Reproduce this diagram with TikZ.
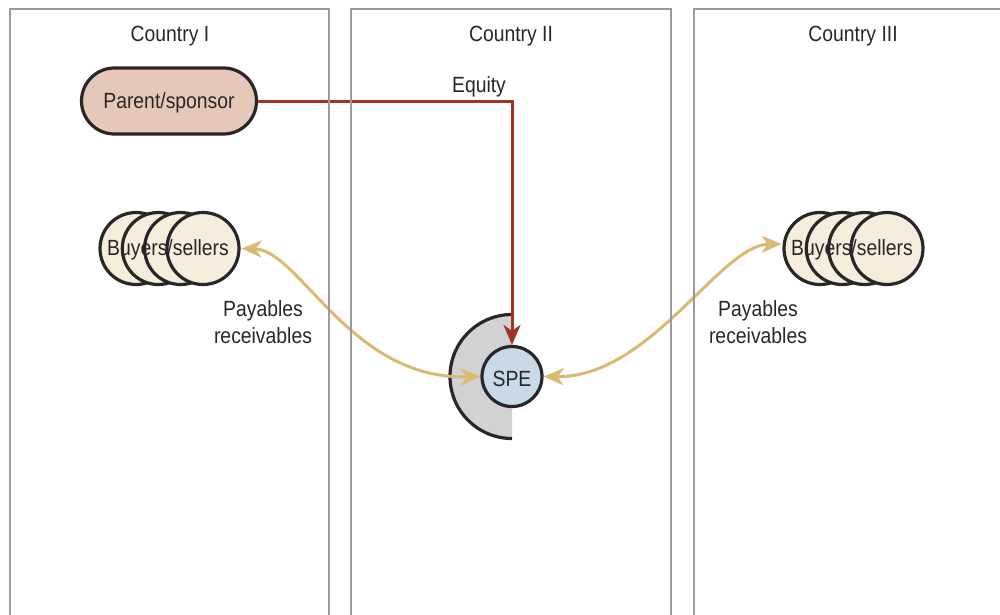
\documentclass[tikz,border=0pt]{standalone}
\usepackage{fontspec}
\setmainfont[FakeStretch=0.88]{Liberation Sans}
\usetikzlibrary{arrows.meta}

\definecolor{ink}{HTML}{2A2627}
\definecolor{panelgray}{HTML}{9B9B9D}
\definecolor{parentfill}{HTML}{E6C8BB}
\definecolor{partyfill}{HTML}{F6EEDC}
\definecolor{spefill}{HTML}{C7DAE5}
\definecolor{shieldfill}{HTML}{D1D2D4}
\definecolor{flowgold}{HTML}{D8BA72}
\definecolor{equityred}{HTML}{A33222}

\tikzset{
  txt/.style={font=\fontsize{22}{27}\selectfont, text=ink, inner sep=0pt, align=center},
  panel/.style={draw=panelgray, line width=2.4pt},
  outline/.style={draw=ink, line width=3.2pt},
  party/.style={outline, circle, fill=partyfill, minimum size=72pt, inner sep=0pt},
  flow/.style={draw=flowgold, line width=3pt, {Stealth[length=20pt, width=17pt, inset=6pt]}-{Stealth[length=20pt, width=17pt, inset=6pt]}},
  equity/.style={draw=equityred, line width=3pt, -{Stealth[length=20pt, width=17pt, inset=6pt]}},
}

\begin{document}
\begin{tikzpicture}[x=1pt, y=-1pt]
  \useasboundingbox (0,0) rectangle (1000,614);
  \clip (0,0) rectangle (1000,614);
  \fill[white] (0,0) rectangle (1000,614);

  % column headings
  \node[txt] (c1) at (170,36) {Country I};
  \node[txt] (c2) at (511,36) {Country II};
  \node[txt] (c3) at (853,36) {Country III};

  % sponsor
  \node[outline, fill=parentfill, rounded corners=33pt,
        minimum width=175pt, minimum height=66pt] (parent) at (169,101) {};
  \node[txt] (parentlbl) at (169,103) {Parent/sponsor};

  % counterparties in country I
  \node[party] (l1) at (136,248.5) {};
  \node[party] (l2) at (158.3,248.5) {};
  \node[party] (l3) at (180.6,248.5) {};
  \node[party] (l4) at (203,248.5) {};
  \node[txt] (lbuy) at (168,250) {Buyers/sellers};

  % counterparties in country III
  \node[party] (r1) at (820,248.5) {};
  \node[party] (r2) at (842.3,248.5) {};
  \node[party] (r3) at (864.6,248.5) {};
  \node[party] (r4) at (887,248.5) {};
  \node[txt] (rbuy) at (852,250) {Buyers/sellers};

  % special purpose entity with its half shield (y axis points down)
  \coordinate (spec) at (512,376.5);
  \fill[shieldfill] (512,314.5) arc[start angle=270, end angle=90, radius=62] -- cycle;
  \draw[ink, line width=3.2pt] (512,314.5) arc[start angle=270, end angle=90, radius=62];
  \node[outline, circle, fill=spefill, minimum size=60pt] (spe) at (spec) {};
  \node[txt] (spelbl) at (512,378.5) {SPE};

  % labels
  \node[txt] (eq) at (479,87) {Equity};
  \node[txt] (payL) at (263,322) {Payables\\receivables};
  \node[txt] (payR) at (758,322) {Payables\\receivables};

  % flows
  \draw[equity] (parent.east) -| (spe.north);
  \draw[flow, shorten <=1pt] (l4.east) .. controls (300,250) and (350,380) .. (spe.west);
  \draw[flow, shorten >=1pt] (spe.east) .. controls (650,378) and (720,245) .. (r1.173);

  % country panels
  \draw[panel] (10,630) -- (10,9) -- (329,9) -- (329,630);
  \draw[panel] (351,630) -- (351,9) -- (671,9) -- (671,630);
  \draw[panel] (694,630) -- (694,9) -- (1010,9);
\end{tikzpicture}
\end{document}
